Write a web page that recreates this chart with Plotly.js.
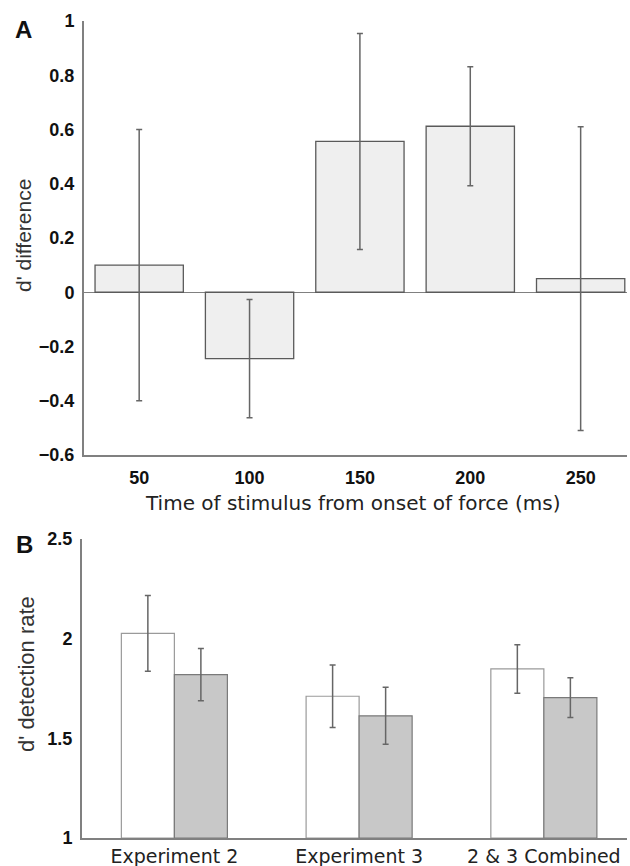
<!DOCTYPE html>
<html>
<head>
<meta charset="utf-8">
<script src="https://cdn.plot.ly/plotly-3.0.1.min.js"></script>
<style>
html,body{margin:0;padding:0;background:#fff;}
#chart{width:630px;height:866px;}
</style>
</head>
<body>
<div id="chart"></div>
<script>
// Panel A data
const timesA = [50, 100, 150, 200, 250];
const diffA = [0.10, -0.245, 0.556, 0.612, 0.05];
const errA = [0.50, 0.218, 0.398, 0.219, 0.56];
const yTicksA = [-0.6, -0.4, -0.2, 0, 0.2, 0.4, 0.6, 0.8, 1];
const yTickTextA = ['\u22120.6', '\u22120.4', '\u22120.2', '0', '0.2', '0.4', '0.6', '0.8', '1'];

// Panel B data
const groupsB = ['Experiment 2', 'Experiment 3', '2 & 3 Combined'];
const whiteB = [2.027, 1.711, 1.848];
const whiteErrB = [0.19, 0.157, 0.122];
const grayB = [1.820, 1.613, 1.704];
const grayErrB = [0.131, 0.143, 0.10];
const yTicksB = [1, 1.5, 2, 2.5];

const W = 630, H = 866;
const px = v => v / W;
const py = v => 1 - v / H;

const tickFont = {family: 'Liberation Sans, Arial, sans-serif', size: 18, color: '#111', weight: 'bold'};
const axisColor = '#808080';

const traces = [
  {
    type: 'bar', x: timesA, y: diffA, width: 40,
    xaxis: 'x', yaxis: 'y',
    marker: {color: '#efefef', line: {color: '#5a5a5a', width: 1.3}},
    error_y: {type: 'data', array: errA, visible: true, color: '#666', thickness: 1.5, width: 3},
    showlegend: false, hoverinfo: 'skip'
  },
  {
    type: 'bar', x: groupsB, y: whiteB.map(v => v - 1), base: 1,
    xaxis: 'x2', yaxis: 'y2',
    marker: {color: '#ffffff', line: {color: '#9a9a9a', width: 1.2}},
    error_y: {type: 'data', array: whiteErrB, visible: true, color: '#666', thickness: 1.5, width: 3},
    showlegend: false, hoverinfo: 'skip', offsetgroup: 'w'
  },
  {
    type: 'bar', x: groupsB, y: grayB.map(v => v - 1), base: 1,
    xaxis: 'x2', yaxis: 'y2',
    marker: {color: '#c8c8c8', line: {color: '#7a7a7a', width: 1.2}},
    error_y: {type: 'data', array: grayErrB, visible: true, color: '#666', thickness: 1.5, width: 3},
    showlegend: false, hoverinfo: 'skip', offsetgroup: 'g'
  }
];

const layout = {
  width: W, height: H,
  margin: {l: 0, r: 0, t: 0, b: 0},
  paper_bgcolor: '#fff', plot_bgcolor: '#fff',
  barmode: 'group', bargap: 0.426, bargroupgap: 0,
  xaxis: {
    domain: [px(84), px(627)], range: [25, 271], anchor: 'y',
    tickvals: timesA, ticktext: timesA.map(String),
    showgrid: false, zeroline: false, showline: true, linecolor: axisColor, linewidth: 2,
    ticks: '', tickfont: tickFont, ticklabelstandoff: 5
  },
  yaxis: {
    domain: [py(455), py(21)], range: [-0.6, 1], anchor: 'x',
    tickvals: yTicksA, ticktext: yTickTextA,
    showgrid: false, zeroline: true, zerolinecolor: axisColor, zerolinewidth: 1.5,
    showline: true, linecolor: axisColor, linewidth: 2,
    ticks: '', tickfont: tickFont, ticklabelstandoff: 4
  },
  xaxis2: {
    domain: [px(82), px(627)], range: [-0.5, 2.45], anchor: 'y2',
    type: 'category',
    showgrid: false, zeroline: false, showline: true, linecolor: axisColor, linewidth: 2,
    ticks: '', tickfont: {family: 'DejaVu Sans, sans-serif', size: 19, color: '#222'}, ticklabelstandoff: 0
  },
  yaxis2: {
    domain: [py(838), py(539)], range: [1, 2.5], anchor: 'x2',
    tickvals: yTicksB, ticktext: yTicksB.map(String),
    showgrid: false, zeroline: false,
    showline: true, linecolor: axisColor, linewidth: 2,
    ticks: '', tickfont: tickFont, ticklabelstandoff: 4
  },
  annotations: [
    {text: 'A', xref: 'paper', yref: 'paper', x: px(23), y: py(29), xanchor: 'center', yanchor: 'middle', showarrow: false,
     font: {family: 'Liberation Sans, Arial, sans-serif', size: 24, color: '#111', weight: 'bold'}},
    {text: 'B', xref: 'paper', yref: 'paper', x: px(24), y: py(544), xanchor: 'center', yanchor: 'middle', showarrow: false,
     font: {family: 'Liberation Sans, Arial, sans-serif', size: 24, color: '#111', weight: 'bold'}},
    {text: "d' difference", xref: 'paper', yref: 'paper', x: px(24), y: py(236), xanchor: 'center', yanchor: 'middle', textangle: -90, showarrow: false,
     font: {family: 'Liberation Sans, Arial, sans-serif', size: 21, color: '#333'}},
    {text: "d' detection rate", xref: 'paper', yref: 'paper', x: px(26), y: py(674), xanchor: 'center', yanchor: 'middle', textangle: -90, showarrow: false,
     font: {family: 'Liberation Sans, Arial, sans-serif', size: 22, color: '#333'}},
    {text: 'Time of stimulus from onset of force (ms)', xref: 'paper', yref: 'paper', x: px(353), y: py(503), xanchor: 'center', yanchor: 'middle', showarrow: false,
     font: {family: 'DejaVu Sans, sans-serif', size: 20, color: '#222'}}
  ]
};

Plotly.newPlot('chart', traces, layout, {staticPlot: true, displayModeBar: false});
</script>
</body>
</html>
